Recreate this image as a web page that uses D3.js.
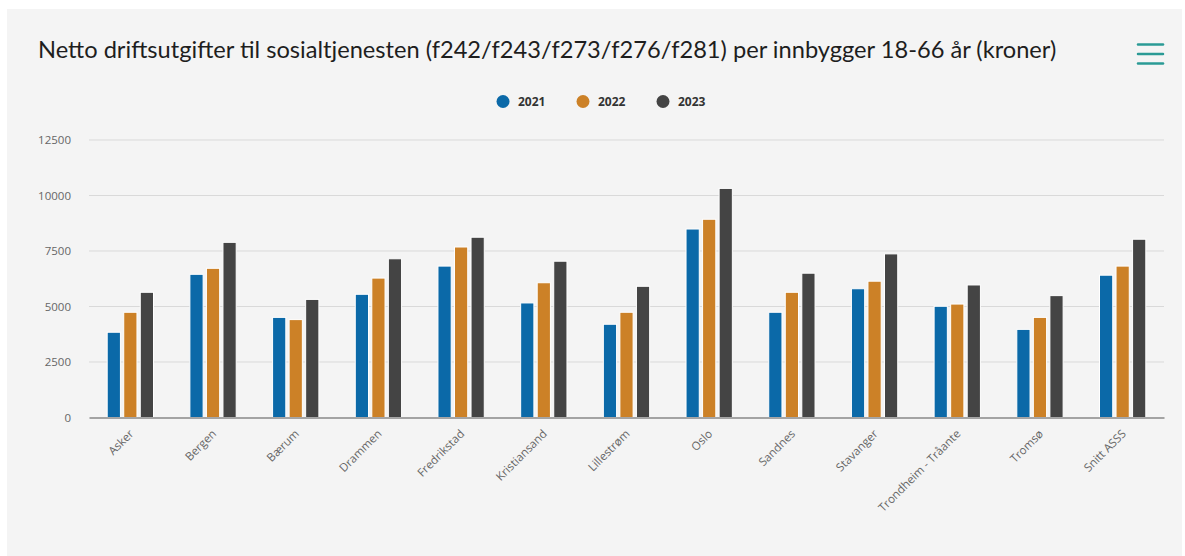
<!DOCTYPE html>
<html>
<head>
<meta charset="utf-8">
<script src="https://cdn.jsdelivr.net/npm/d3@7"></script>
<style>
  html, body { margin: 0; padding: 0; background: #fff; }
  .chart text { font-family: "Open Sans", "Noto Sans", sans-serif; }
</style>
</head>
<body>
<div class="chart"></div>
<script>
(function() {
  var categories = ["Asker", "Bergen", "Bærum", "Drammen", "Fredrikstad", "Kristiansand",
    "Lillestrøm", "Oslo", "Sandnes", "Stavanger", "Trondheim - Tråante", "Tromsø", "Snitt ASSS"];
  var years = ["2021", "2022", "2023"];
  var v2021 = [3840, 6450, 4510, 5550, 6820, 5160, 4200, 8490, 4740, 5800, 5010, 3970, 6410];
  var v2022 = [4740, 6720, 4410, 6280, 7680, 6070, 4740, 8930, 5640, 6140, 5110, 4510, 6820];
  var v2023 = [5640, 7890, 5320, 7150, 8120, 7040, 5910, 10320, 6500, 7370, 5970, 5490, 8030];
  var yTicks = [0, 2500, 5000, 7500, 10000, 12500];
  var colors = ["#0b69a8", "#cc8127", "#444444"];
  var title = "Netto driftsutgifter til sosialtjenesten (f242/f243/f273/f276/f281) per innbygger 18-66 år (kroner)";

  var series = [v2021, v2022, v2023];
  var width = 1185, height = 556;
  var plot = { left: 89, right: 1164, top: 140, bottom: 417.5 };

  var svg = d3.select(".chart").append("svg")
    .attr("width", width)
    .attr("height", height);

  // panel background
  svg.append("rect")
    .attr("x", 7).attr("y", 9)
    .attr("width", 1175).attr("height", height - 9)
    .attr("fill", "#f4f4f4");

  // title, scaled to the reference width
  var t = svg.append("text")
    .attr("x", 38).attr("y", 58)
    .attr("fill", "#1e1e1e")
    .style("font-family", "Lato, 'Noto Sans', sans-serif")
    .style("font-size", "20px")
    .text(title);
  var len = t.node().getComputedTextLength();
  t.style("font-size", (20 * 1019 / len) + "px");

  // menu icon
  svg.selectAll("line.menu")
    .data([44.5, 54, 63.5]).enter()
    .append("line")
      .attr("class", "menu")
      .attr("x1", 1138).attr("x2", 1163)
      .attr("y1", function(d) { return d; })
      .attr("y2", function(d) { return d; })
      .attr("stroke", "#2a9a95")
      .attr("stroke-width", 2.5)
      .attr("stroke-linecap", "round");

  // legend
  var legendX = [503, 583, 663];
  var lg = svg.selectAll("g.legend")
    .data(years).enter()
    .append("g")
      .attr("class", "legend")
      .attr("transform", function(d, i) { return "translate(" + legendX[i] + ",101.5)"; });
  lg.append("circle")
    .attr("r", 6.5)
    .attr("fill", function(d, i) { return colors[i]; });
  lg.append("text")
    .attr("x", 15).attr("y", 4.5)
    .attr("fill", "#333")
    .style("font-size", "12px")
    .style("font-weight", "bold")
    .text(function(d) { return d; });

  var x0 = d3.scaleBand()
    .domain(categories)
    .range([plot.left, plot.right]);
  var bw = x0.bandwidth();
  var x1 = d3.scaleBand()
    .domain(years)
    .range([0.2 * bw, 0.8 * bw])
    .paddingInner(0.2)
    .paddingOuter(0.1);
  var y = d3.scaleLinear()
    .domain([0, 12500])
    .range([plot.bottom, plot.top]);

  // grid
  svg.append("g")
    .selectAll("line")
    .data(yTicks.slice(1)).enter()
    .append("line")
      .attr("x1", plot.left).attr("x2", plot.right)
      .attr("y1", function(d) { return y(d); })
      .attr("y2", function(d) { return y(d); })
      .attr("stroke", "#d9d9d9")
      .attr("stroke-width", 1);

  // y labels
  var yAxis = d3.axisLeft(y).tickValues(yTicks).tickFormat(d3.format("d")).tickSize(0).tickPadding(18);
  var ya = svg.append("g")
    .attr("transform", "translate(" + plot.left + ",0)")
    .call(yAxis);
  ya.select(".domain").remove();
  ya.selectAll("text")
    .attr("fill", "#666")
    .style("font-size", "11.5px")
    .style("font-family", "'Open Sans', sans-serif");

  // bars
  var groups = svg.append("g")
    .selectAll("g")
    .data(categories).enter()
    .append("g")
      .attr("transform", function(d) { return "translate(" + x0(d) + ",0)"; });
  groups.selectAll("rect")
    .data(function(d, ci) { return years.map(function(yr, si) { return { year: yr, i: si, value: series[si][ci] }; }); })
    .enter()
    .append("rect")
      .attr("x", function(d) { return x1(d.year); })
      .attr("width", x1.bandwidth())
      .attr("y", function(d) { return y(d.value); })
      .attr("height", function(d) { return y(0) - y(d.value); })
      .attr("fill", function(d) { return colors[d.i]; })
      .attr("stroke", "#fff")
      .attr("stroke-width", 1);

  // x axis
  var xAxis = d3.axisBottom(x0).tickSize(0).tickPadding(0);
  var xa = svg.append("g")
    .attr("transform", "translate(0," + plot.bottom + ")")
    .call(xAxis);
  xa.select(".domain")
    .attr("stroke", "#888")
    .attr("stroke-width", 1.5);
  xa.selectAll(".tick text")
    .attr("fill", "#666")
    .attr("dy", null)
    .attr("y", null)
    .style("font-size", "11.5px")
    .style("font-family", "'Open Sans', sans-serif")
    .attr("text-anchor", "end")
    .attr("transform", "translate(4,17) rotate(-45)");
})();
</script>
</body>
</html>
